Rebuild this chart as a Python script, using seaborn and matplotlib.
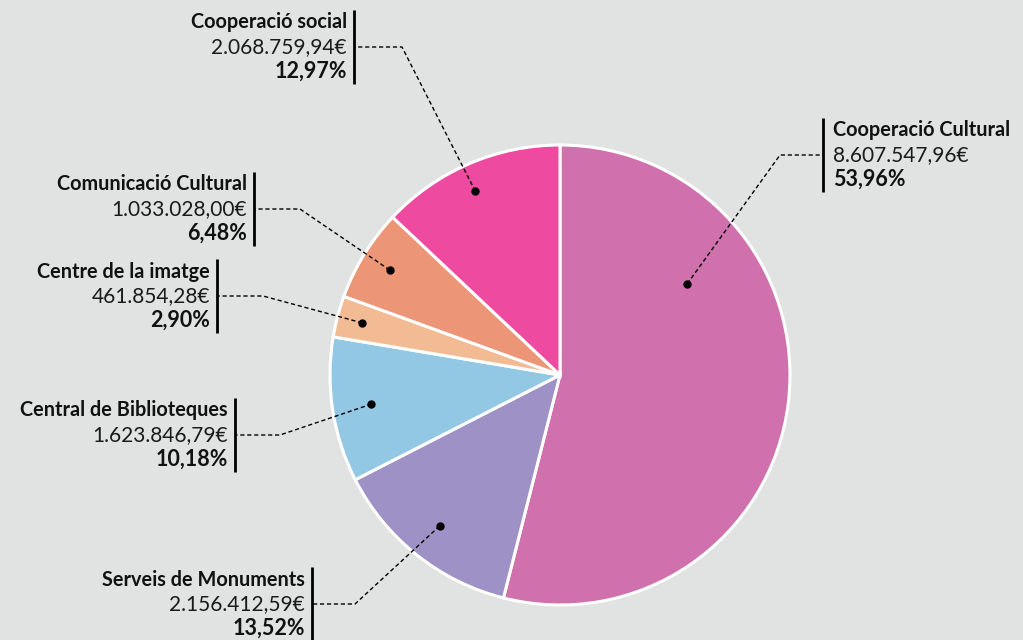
import numpy as np
import matplotlib
matplotlib.use("Agg")
import matplotlib.pyplot as plt
import seaborn as sns

# --- data (clockwise from 12 o'clock) ---
categories = ["Cooperació Cultural", "Serveis de Monuments", "Central de Biblioteques",
              "Centre de la imatge", "Comunicació Cultural", "Cooperació social"]
amounts = ["8.607.547,96€", "2.156.412,59€", "1.623.846,79€",
           "461.854,28€", "1.033.028,00€", "2.068.759,94€"]
shares = [53.96, 13.52, 10.18, 2.90, 6.48, 12.97]

# --- style ---
colors = ["#d070ac", "#9e91c6", "#93c8e5", "#f2bb94", "#ec9677", "#ee4a9f"]
BG = "#e1e2e2"
W, H = 1023, 640
CX, CY, R = 560, H - 375, 230
dot_frac = [0.68, 0.84, 0.83, 0.89, 0.87, 0.88]   # radial position of dot
dot_pos = [0.28, 0.5, 0.5, 0.5, 0.5, 0.47]        # clockwise position inside wedge
# label block: bar x, middle-line y (pixels from top), side, elbow x
label_pos = [(823, 155, "right", 780), (312, 604, "left", 355),
             (235, 435, "left", 280), (217, 296, "left", 263),
             (254, 209, "left", 300), (354, 47, "left", 402)]

sns.set_theme(style="white")
plt.rcParams["font.family"] = ["Lato", "DejaVu Sans"]

fig = plt.figure(figsize=(W / 100, H / 100), dpi=100, facecolor=BG)
ax = fig.add_axes([0, 0, 1, 1])
ax.set_facecolor(BG)

wedges, _ = ax.pie(shares, colors=colors, startangle=90, counterclock=False,
                   center=(CX, CY), radius=R, frame=True,
                   wedgeprops=dict(edgecolor="white", linewidth=2.2))
ax.set_xlim(0, W)
ax.set_ylim(0, H)
ax.set_aspect("equal")
ax.axis("off")

for i, w in enumerate(wedges):
    # clockwise wedges: theta2 is where the slice starts
    ang = np.deg2rad(w.theta2 - dot_pos[i] * (w.theta2 - w.theta1))
    dx = CX + dot_frac[i] * R * np.cos(ang)
    dy = CY + dot_frac[i] * R * np.sin(ang)
    bx, my, side, ex = label_pos[i]
    my = H - my
    ax.plot([dx, ex, bx], [dy, my, my], color="black", lw=1, ls=(0, (3, 2)), zorder=3)
    ax.plot(dx, dy, "o", color="black", ms=5, zorder=4)
    ax.plot([bx, bx], [my - 37, my + 37], color="black", lw=2, solid_capstyle="butt", zorder=4)
    if side == "left":
        tx, ha = bx - 7, "right"
    else:
        tx, ha = bx + 10, "left"
    ax.text(tx, my + 24.5, categories[i], ha=ha, va="center", fontsize=14.3,
            fontweight="bold", color="#111111")
    ax.text(tx, my, amounts[i], ha=ha, va="center", fontsize=15,
            fontweight="normal", color="#1a1a1a")
    pct = f"{shares[i]:.2f}%".replace(".", ",")
    ax.text(tx, my - 24.5, pct, ha=ha, va="center", fontsize=15.5,
            fontweight="bold", color="#111111")

fig.savefig("out.png", dpi=100, facecolor=BG)
